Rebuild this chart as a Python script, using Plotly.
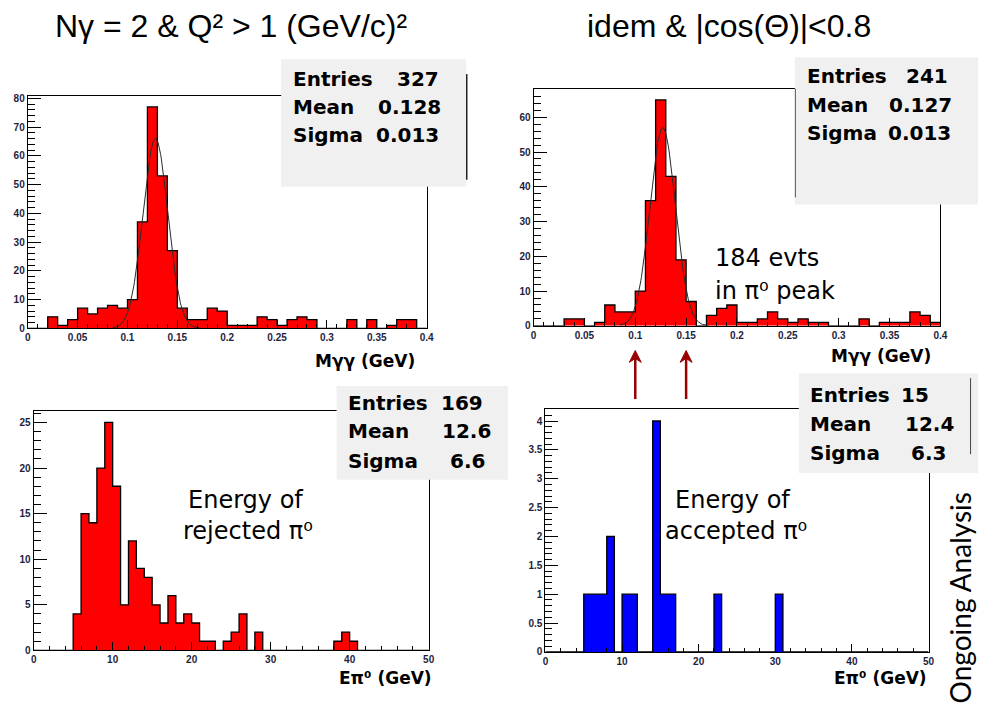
import numpy as np
import plotly.graph_objects as go

W, H = 985, 708

# ---------------- data ----------------
mgg_bin_width = 0.01
mgg_all_counts = [0, 0, 4, 1, 3, 7, 5, 7, 8, 7,
                  10, 37, 77, 53, 27, 7, 3, 3, 7, 6,
                  1, 1, 1, 4, 3, 1, 3, 4, 3, 0,
                  0, 0, 3, 0, 3, 0, 1, 3, 3, 0]
mgg_cos_counts = [0, 0, 0, 2, 2, 0, 1, 6, 4, 4,
                  10, 36, 65, 43, 19, 7, 0, 3, 5, 6,
                  1, 1, 2, 4, 2, 1, 2, 1, 1, 0,
                  0, 0, 2, 0, 1, 1, 1, 4, 3, 1]
e_bin_width = 1.0
e_rejected_counts = [0, 0, 0, 0, 0, 4, 15, 14, 20, 25,
                     18, 5, 12, 9, 8, 5, 3, 6, 3, 4,
                     3, 1, 1, 0, 1, 2, 4, 0, 2, 0,
                     0, 0, 0, 0, 0, 0, 0, 0, 1, 2,
                     1, 0, 0, 0, 0, 0, 0, 0, 0, 0]
e_accepted_counts = [0, 0, 0, 0, 0, 1, 1, 1, 2, 0,
                     1, 1, 0, 0, 4, 1, 1, 0, 0, 0,
                     0, 0, 1, 0, 0, 0, 0, 0, 0, 0,
                     1, 0, 0, 0, 0, 0, 0, 0, 0, 0,
                     0, 0, 0, 0, 0, 0, 0, 0, 0, 0]

# Gaussian fit parameters (amplitude, mean, sigma, fit range)
fit_all = dict(amp=66, mean=0.128, sigma=0.0125, lo=0.085, hi=0.172)
fit_cos = dict(amp=57, mean=0.127, sigma=0.0125, lo=0.085, hi=0.172)

# peak window marked by the arrows (GeV)
peak_window = [0.1, 0.15]

stats_all = [("Entries", "327"), ("Mean", "0.128"), ("Sigma", "0.013")]
stats_cos = [("Entries", "241"), ("Mean", "0.127"), ("Sigma", "0.013")]
stats_rej = [("Entries", "169"), ("Mean", "12.6"), ("Sigma", "6.6")]
stats_acc = [("Entries", "15"), ("Mean", "12.4"), ("Sigma", "6.3")]

title_left = "Nγ = 2 & Q² > 1 (GeV/c)²"
title_right = "idem & |cos(Θ)|<0.8"

# ---------------- helpers ----------------
def X(px):
    return px / W

def Y(py):
    return 1 - py / H

def step_xy(counts, width):
    edges = [i * width for i in range(len(counts) + 1)]
    ys = list(counts) + [counts[-1]]
    return edges, ys

COMIC = "DejaVu Sans"
TICKFONT = dict(family="Liberation Sans", size=10, color="#1e1e40", weight=700)

fig = go.Figure()

panels = [
    (mgg_all_counts, mgg_bin_width, "#ff0000", "x", "y"),
    (mgg_cos_counts, mgg_bin_width, "#ff0000", "x2", "y2"),
    (e_rejected_counts, e_bin_width, "#ff0000", "x3", "y3"),
    (e_accepted_counts, e_bin_width, "#0000ff", "x4", "y4"),
]
for counts, wd, col, xa, ya in panels:
    xs, ys = step_xy(counts, wd)
    fig.add_trace(go.Scatter(
        x=xs, y=ys, mode="lines", line=dict(shape="hv", color="black", width=1.3),
        fill="tozeroy", fillcolor=col, xaxis=xa, yaxis=ya, showlegend=False,
        hoverinfo="skip"))

for fp, xa, ya in [(fit_all, "x", "y"), (fit_cos, "x2", "y2")]:
    xf = np.linspace(fp["lo"], fp["hi"], 120)
    yf = fp["amp"] * np.exp(-0.5 * ((xf - fp["mean"]) / fp["sigma"]) ** 2)
    fig.add_trace(go.Scatter(x=xf, y=yf, mode="lines",
                             line=dict(color="#2a2a2a", width=1),
                             xaxis=xa, yaxis=ya, showlegend=False, hoverinfo="skip"))

def xaxis_cfg(dom, rng, dtick, mdtick):
    return dict(domain=dom, range=rng, tick0=0, dtick=dtick, ticks="inside",
                ticklen=8, tickwidth=1, tickcolor="black", showline=True,
                linecolor="black", linewidth=1, mirror=True, showgrid=False,
                zeroline=False, tickfont=TICKFONT, fixedrange=True,
                minor=dict(dtick=mdtick, ticks="inside", ticklen=4,
                           tickcolor="black", tickwidth=1, showgrid=False))

def yaxis_cfg(dom, rng, dtick, mdtick, anchor):
    return dict(domain=dom, range=rng, tick0=0, dtick=dtick, ticks="inside",
                ticklen=13, tickwidth=1.2, tickcolor="black", showline=True,
                linecolor="black", linewidth=1, mirror=True, showgrid=False,
                zeroline=False, tickfont=TICKFONT, anchor=anchor, fixedrange=True,
                minor=dict(dtick=mdtick, ticks="inside", ticklen=7,
                           tickcolor="black", tickwidth=1.2, showgrid=False))

fig.update_layout(
    width=W, height=H, margin=dict(l=0, r=0, t=0, b=0),
    paper_bgcolor="white", plot_bgcolor="white", showlegend=False,
    xaxis=xaxis_cfg([X(25), X(428)], [0, 0.4], 0.05, 0.01),
    yaxis=yaxis_cfg([Y(329.5), Y(94)], [0, 80.85], 10, 2, "x"),
    xaxis2=dict(**xaxis_cfg([X(536), X(947)], [0, 0.4], 0.05, 0.01), anchor="y2"),
    yaxis2=yaxis_cfg([Y(327), Y(86.7)], [0, 68.25], 10, 2, "x2"),
    xaxis3=dict(**xaxis_cfg([X(31), X(430)], [0, 50], 10, 2), anchor="y3"),
    yaxis3=yaxis_cfg([Y(655.7), Y(413.3)], [0, 26.25], 5, 1, "x3"),
    xaxis4=dict(**xaxis_cfg([X(548), X(935)], [0, 50], 10, 2), anchor="y4"),
    yaxis4=yaxis_cfg([Y(657.3), Y(411.7)], [0, 4.2], 0.5, 0.1, "x4"),
)
fig.layout.xaxis.anchor = "y"

shapes = []
def box(x0, y0, x1, y1):
    shapes.append(dict(type="rect", xref="paper", yref="paper", x0=X(x0), x1=X(x1),
                       y0=Y(y1), y1=Y(y0), fillcolor="#f0f0f0", line=dict(width=0),
                       layer="above"))

def vline(x, y0, y1, color="#222222", w=1.5):
    shapes.append(dict(type="line", xref="paper", yref="paper", x0=X(x), x1=X(x),
                       y0=Y(y1), y1=Y(y0), line=dict(color=color, width=w), layer="above"))

box(281, 57, 468, 186)
vline(468.5, 72, 179)
box(800, 55, 985, 204)
vline(800.5, 87, 197, color="#555555", w=1)
box(337, 388, 510, 483)
box(804, 375, 985, 476)
vline(977.5, 380, 457, color="#444444", w=1)

# arrows marking the peak window (shaft + head), placed on the x2 scale
ARROW = "#990000"
head_half = 6 * 0.4 / 411.0   # ~6 px half-width expressed on the x2 scale
for xv in peak_window:
    shapes.append(dict(type="line", xref="x2", yref="paper", x0=xv, x1=xv,
                       y0=Y(401), y1=Y(356), line=dict(color=ARROW, width=2.5),
                       layer="above"))
    shapes.append(dict(type="path", xref="x2", yref="paper",
                       path=f"M {xv - head_half},{Y(364)} L {xv},{Y(352)} "
                            f"L {xv + head_half},{Y(364)} L {xv},{Y(360)} Z",
                       fillcolor=ARROW, line=dict(color=ARROW, width=1),
                       layer="above"))
fig.update_layout(shapes=shapes)

ann = []
def txt(px, py, text, size, family=COMIC, weight=400, xanchor="left",
        yanchor="middle", color="black", angle=0):
    ann.append(dict(x=X(px), y=Y(py), xref="paper", yref="paper", text=text,
                    showarrow=False, xanchor=xanchor, yanchor=yanchor,
                    textangle=angle,
                    font=dict(family=family, size=size, color=color, weight=weight)))

# titles
txt(230, 23, title_left, 32, family="Liberation Sans", xanchor="center")
txt(733, 23, title_right, 32, family="Liberation Sans", xanchor="center")

# stats boxes
def stats(rows, xlab, xvals, ys):
    for (lab, val), xv, yy in zip(rows, xvals, ys):
        txt(xlab, yy, lab, 20, weight=700)
        txt(xv, yy, val, 20, weight=700, xanchor="right")

stats(stats_all, 291, [442, 445, 442], [77, 105, 134])
stats(stats_cos, 810, [957, 961, 960], [74, 103, 132])
stats(stats_rej, 347, [487, 495, 489], [405, 434, 464])
stats(stats_acc, 813, [938, 963, 955], [397, 426, 456])

# axis titles
txt(418, 363, "Mγγ (GeV)", 17, weight=700, xanchor="right")
txt(940, 358, "Mγγ (GeV)", 17, weight=700, xanchor="right")
txt(435, 684, "Eπ⁰ (GeV)", 17, weight=700, xanchor="right")
txt(935, 684, "Eπ⁰ (GeV)", 17, weight=700, xanchor="right")

# in-plot labels
txt(717, 258, "184 evts", 24)
txt(717, 292, "in π⁰ peak", 24)
txt(245, 503, "Energy of", 24, xanchor="center")
txt(248, 535, "rejected π⁰", 24, xanchor="center")
txt(737, 503, "Energy of", 24, xanchor="center")
txt(741, 535, "accepted π⁰", 24, xanchor="center")

# vertical side note
txt(967, 494, "Ongoing Analysis", 28, family="Lato", xanchor="center",
    yanchor="top", angle=-90)

fig.update_layout(annotations=ann)
fig.write_html("out.html")
